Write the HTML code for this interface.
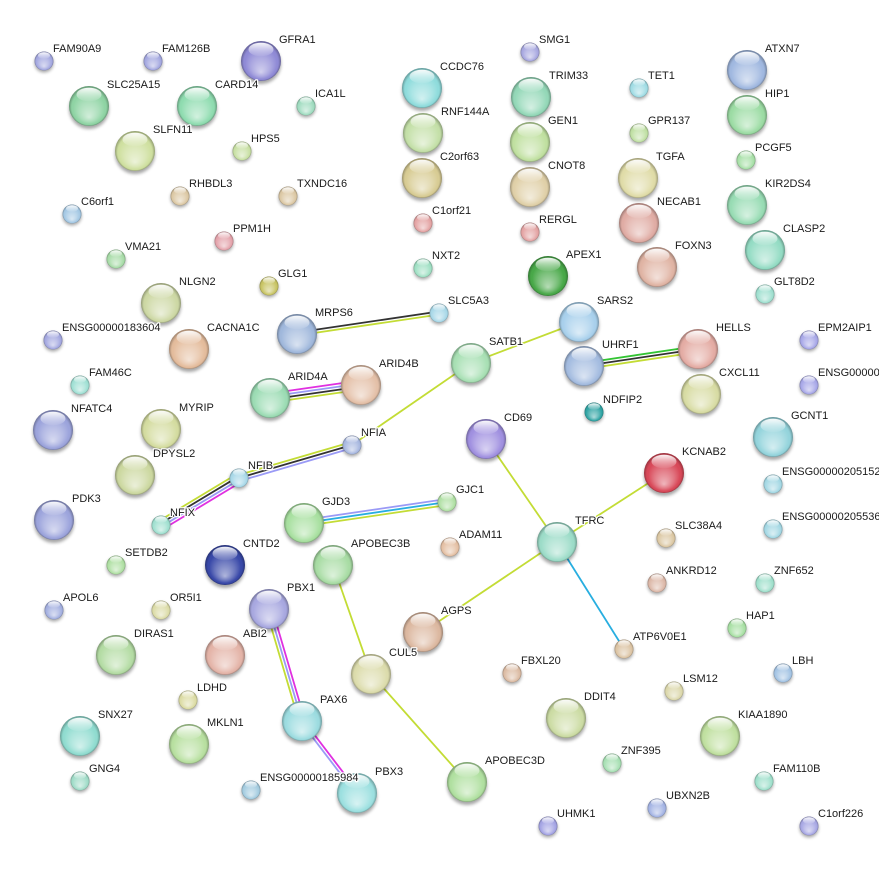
<!DOCTYPE html>
<html><head><meta charset="utf-8"><style>
html,body{margin:0;padding:0;background:#fff;}
svg{display:block;}
text{font-family:"Liberation Sans",Arial,sans-serif;font-size:11px;fill:#1a1a1a;stroke:#fff;stroke-width:2.5px;paint-order:stroke;stroke-linejoin:round;}
.e{stroke-width:1.8;fill:none;}
.y{stroke:#c3dc35;}.k{stroke:#333;}.l{stroke:#9a9af6;}.m{stroke:#e030e0;}.g{stroke:#33c433;}.c{stroke:#28aee0;}
</style></head><body>
<svg width="879" height="871" viewBox="0 0 879 871" xmlns="http://www.w3.org/2000/svg">
<defs>
<radialGradient id="sh" cx="50%" cy="50%" r="50%" fx="50%" fy="78%">
<stop offset="0" stop-color="#fff" stop-opacity="0.6"/>
<stop offset="0.5" stop-color="#fff" stop-opacity="0.25"/>
<stop offset="0.8" stop-color="#fff" stop-opacity="0"/>
<stop offset="0.88" stop-color="#000" stop-opacity="0.03"/>
<stop offset="1" stop-color="#000" stop-opacity="0.3"/>
</radialGradient>
<linearGradient id="hl" x1="0" y1="0" x2="0" y2="1">
<stop offset="0" stop-color="#fff" stop-opacity="0.95"/>
<stop offset="1" stop-color="#fff" stop-opacity="0.05"/>
</linearGradient>
<filter id="bl" x="-50%" y="-50%" width="200%" height="200%"><feGaussianBlur stdDeviation="1.6"/></filter>
<g id="S"><circle cx="0" cy="3" r="20" fill="#000" opacity="0.35" filter="url(#bl)"/></g>
<g id="G"><circle r="20" fill="url(#sh)"/><ellipse cx="0" cy="-11.5" rx="12.5" ry="6.8" fill="url(#hl)"/></g>
<g id="s"><circle cx="0" cy="2" r="9.5" fill="#000" opacity="0.35" filter="url(#bl)"/></g>
<g id="gs"><circle r="9.5" fill="url(#sh)"/><ellipse cx="0" cy="-5.5" rx="6" ry="3.3" fill="url(#hl)"/></g>
</defs>

<!-- edges -->
<line class="e k" x1="296.8" y1="332.5" x2="438.8" y2="311.5"/>
<line class="e y" x1="297.2" y1="335.5" x2="439.2" y2="314.5"/>
<line class="e y" x1="471" y1="363" x2="579" y2="322"/>
<line class="e y" x1="471" y1="363" x2="352" y2="445"/>
<line class="e g" x1="583.6" y1="363" x2="697.6" y2="346"/>
<line class="e k" x1="584" y1="366" x2="698" y2="349"/>
<line class="e y" x1="584.4" y1="369" x2="698.4" y2="352"/>
<line class="e m" x1="269.4" y1="393.5" x2="360.4" y2="380.5"/>
<line class="e l" x1="269.8" y1="396.5" x2="360.8" y2="383.5"/>
<line class="e k" x1="270.2" y1="399.5" x2="361.2" y2="386.5"/>
<line class="e y" x1="270.6" y1="402.5" x2="361.6" y2="389.5"/>
<line class="e y" x1="238.2" y1="475.1" x2="351.2" y2="442.1"/>
<line class="e k" x1="239" y1="478" x2="352" y2="445"/>
<line class="e l" x1="239.8" y1="480.9" x2="352.8" y2="447.9"/>
<line class="e y" x1="158.7" y1="521.1" x2="236.7" y2="474.1"/>
<line class="e k" x1="160.2" y1="523.7" x2="238.2" y2="476.7"/>
<line class="e l" x1="161.8" y1="526.3" x2="239.8" y2="479.3"/>
<line class="e m" x1="163.3" y1="528.9" x2="241.3" y2="481.9"/>
<line class="e l" x1="303.6" y1="520" x2="446.6" y2="499"/>
<line class="e c" x1="304" y1="523" x2="447" y2="502"/>
<line class="e y" x1="304.4" y1="526" x2="447.4" y2="505"/>
<line class="e y" x1="486" y1="439" x2="557" y2="542"/>
<line class="e y" x1="557" y1="542" x2="664" y2="473"/>
<line class="e y" x1="557" y1="542" x2="423" y2="632"/>
<line class="e c" x1="557" y1="542" x2="624" y2="649"/>
<line class="e y" x1="333" y1="565" x2="371" y2="674"/>
<line class="e y" x1="371" y1="674" x2="467" y2="782"/>
<line class="e y" x1="266.1" y1="609.8" x2="299.1" y2="721.8"/>
<line class="e l" x1="269" y1="609" x2="302" y2="721"/>
<line class="e m" x1="271.9" y1="608.2" x2="304.9" y2="720.2"/>
<line class="e m" x1="303.2" y1="720.1" x2="358.2" y2="792.1"/>
<line class="e l" x1="300.8" y1="721.9" x2="355.8" y2="793.9"/>

<!-- large nodes -->
<g transform="translate(261,61)"><use href="#S"/><circle r="20" fill="#8f8ad6"/><use href="#G"/></g>
<g transform="translate(89,106)"><use href="#S"/><circle r="20" fill="#8fd4a4"/><use href="#G"/></g>
<g transform="translate(197,106)"><use href="#S"/><circle r="20" fill="#8fdcb0"/><use href="#G"/></g>
<g transform="translate(135,151)"><use href="#S"/><circle r="20" fill="#cfe0a0"/><use href="#G"/></g>
<g transform="translate(422,88)"><use href="#S"/><circle r="20" fill="#8fdcdc"/><use href="#G"/></g>
<g transform="translate(423,133)"><use href="#S"/><circle r="20" fill="#c4e0a8"/><use href="#G"/></g>
<g transform="translate(422,178)"><use href="#S"/><circle r="20" fill="#d8cc94"/><use href="#G"/></g>
<g transform="translate(531,97)"><use href="#S"/><circle r="20" fill="#94d8b8"/><use href="#G"/></g>
<g transform="translate(530,142)"><use href="#S"/><circle r="20" fill="#c0e0a0"/><use href="#G"/></g>
<g transform="translate(530,187)"><use href="#S"/><circle r="20" fill="#e0d0a8"/><use href="#G"/></g>
<g transform="translate(638,178)"><use href="#S"/><circle r="20" fill="#e0dca8"/><use href="#G"/></g>
<g transform="translate(639,223)"><use href="#S"/><circle r="20" fill="#e0aca4"/><use href="#G"/></g>
<g transform="translate(657,267)"><use href="#S"/><circle r="20" fill="#e0b4a4"/><use href="#G"/></g>
<g transform="translate(548,276)"><use href="#S"/><circle r="20" fill="#48a848"/><use href="#G"/></g>
<g transform="translate(747,70)"><use href="#S"/><circle r="20" fill="#a0b8e0"/><use href="#G"/></g>
<g transform="translate(747,115)"><use href="#S"/><circle r="20" fill="#9cdca4"/><use href="#G"/></g>
<g transform="translate(747,205)"><use href="#S"/><circle r="20" fill="#98dcb4"/><use href="#G"/></g>
<g transform="translate(765,250)"><use href="#S"/><circle r="20" fill="#94dcc4"/><use href="#G"/></g>
<g transform="translate(161,303)"><use href="#S"/><circle r="20" fill="#cdd8a4"/><use href="#G"/></g>
<g transform="translate(189,349)"><use href="#S"/><circle r="20" fill="#e4bc9c"/><use href="#G"/></g>
<g transform="translate(297,334)"><use href="#S"/><circle r="20" fill="#a0b8dc"/><use href="#G"/></g>
<g transform="translate(579,322)"><use href="#S"/><circle r="20" fill="#a8d0ec"/><use href="#G"/></g>
<g transform="translate(471,363)"><use href="#S"/><circle r="20" fill="#a8e0b4"/><use href="#G"/></g>
<g transform="translate(584,366)"><use href="#S"/><circle r="20" fill="#a4bce0"/><use href="#G"/></g>
<g transform="translate(698,349)"><use href="#S"/><circle r="20" fill="#e4aca4"/><use href="#G"/></g>
<g transform="translate(270,398)"><use href="#S"/><circle r="20" fill="#9cdcb4"/><use href="#G"/></g>
<g transform="translate(361,385)"><use href="#S"/><circle r="20" fill="#e4c0a8"/><use href="#G"/></g>
<g transform="translate(701,394)"><use href="#S"/><circle r="20" fill="#d8dca4"/><use href="#G"/></g>
<g transform="translate(53,430)"><use href="#S"/><circle r="20" fill="#9ca4dc"/><use href="#G"/></g>
<g transform="translate(161,429)"><use href="#S"/><circle r="20" fill="#d4dca0"/><use href="#G"/></g>
<g transform="translate(486,439)"><use href="#S"/><circle r="20" fill="#a090e0"/><use href="#G"/></g>
<g transform="translate(773,437)"><use href="#S"/><circle r="20" fill="#94d4dc"/><use href="#G"/></g>
<g transform="translate(135,475)"><use href="#S"/><circle r="20" fill="#ccd8a0"/><use href="#G"/></g>
<g transform="translate(664,473)"><use href="#S"/><circle r="20" fill="#d84858"/><use href="#G"/></g>
<g transform="translate(54,520)"><use href="#S"/><circle r="20" fill="#9ca4dc"/><use href="#G"/></g>
<g transform="translate(304,523)"><use href="#S"/><circle r="20" fill="#a8e0a0"/><use href="#G"/></g>
<g transform="translate(557,542)"><use href="#S"/><circle r="20" fill="#9cdcc8"/><use href="#G"/></g>
<g transform="translate(225,565)"><use href="#S"/><circle r="20" fill="#3848a8"/><use href="#G"/></g>
<g transform="translate(333,565)"><use href="#S"/><circle r="20" fill="#a8dca4"/><use href="#G"/></g>
<g transform="translate(269,609)"><use href="#S"/><circle r="20" fill="#a8a8e0"/><use href="#G"/></g>
<g transform="translate(116,655)"><use href="#S"/><circle r="20" fill="#b4dca4"/><use href="#G"/></g>
<g transform="translate(225,655)"><use href="#S"/><circle r="20" fill="#e4b4a8"/><use href="#G"/></g>
<g transform="translate(423,632)"><use href="#S"/><circle r="20" fill="#dcb8a0"/><use href="#G"/></g>
<g transform="translate(371,674)"><use href="#S"/><circle r="20" fill="#dcdcac"/><use href="#G"/></g>
<g transform="translate(566,718)"><use href="#S"/><circle r="20" fill="#ccdca4"/><use href="#G"/></g>
<g transform="translate(302,721)"><use href="#S"/><circle r="20" fill="#9cdce0"/><use href="#G"/></g>
<g transform="translate(720,736)"><use href="#S"/><circle r="20" fill="#c0e0a0"/><use href="#G"/></g>
<g transform="translate(80,736)"><use href="#S"/><circle r="20" fill="#90dcd0"/><use href="#G"/></g>
<g transform="translate(189,744)"><use href="#S"/><circle r="20" fill="#b8e0a0"/><use href="#G"/></g>
<g transform="translate(467,782)"><use href="#S"/><circle r="20" fill="#b0e0a0"/><use href="#G"/></g>
<g transform="translate(357,793)"><use href="#S"/><circle r="20" fill="#9ce0e0"/><use href="#G"/></g>

<!-- small nodes -->
<g transform="translate(44,61)"><use href="#s"/><circle r="9.5" fill="#a4a8e0"/><use href="#gs"/></g>
<g transform="translate(153,61)"><use href="#s"/><circle r="9.5" fill="#a4a8e0"/><use href="#gs"/></g>
<g transform="translate(306,106)"><use href="#s"/><circle r="9.5" fill="#a0dcc0"/><use href="#gs"/></g>
<g transform="translate(242,151)"><use href="#s"/><circle r="9.5" fill="#c8e0a4"/><use href="#gs"/></g>
<g transform="translate(180,196)"><use href="#s"/><circle r="9.5" fill="#dcc8a4"/><use href="#gs"/></g>
<g transform="translate(288,196)"><use href="#s"/><circle r="9.5" fill="#dcc8a4"/><use href="#gs"/></g>
<g transform="translate(72,214)"><use href="#s"/><circle r="9.5" fill="#a4c8e4"/><use href="#gs"/></g>
<g transform="translate(224,241)"><use href="#s"/><circle r="9.5" fill="#e4a4ac"/><use href="#gs"/></g>
<g transform="translate(116,259)"><use href="#s"/><circle r="9.5" fill="#a8dca8"/><use href="#gs"/></g>
<g transform="translate(269,286)"><use href="#s"/><circle r="9.5" fill="#c8c464"/><use href="#gs"/></g>
<g transform="translate(530,52)"><use href="#s"/><circle r="9.5" fill="#a8a8e0"/><use href="#gs"/></g>
<g transform="translate(639,88)"><use href="#s"/><circle r="9.5" fill="#a0dce4"/><use href="#gs"/></g>
<g transform="translate(639,133)"><use href="#s"/><circle r="9.5" fill="#c0e0a4"/><use href="#gs"/></g>
<g transform="translate(746,160)"><use href="#s"/><circle r="9.5" fill="#a8e0a8"/><use href="#gs"/></g>
<g transform="translate(423,223)"><use href="#s"/><circle r="9.5" fill="#e4a4a4"/><use href="#gs"/></g>
<g transform="translate(530,232)"><use href="#s"/><circle r="9.5" fill="#e4a4a4"/><use href="#gs"/></g>
<g transform="translate(423,268)"><use href="#s"/><circle r="9.5" fill="#a0e0c4"/><use href="#gs"/></g>
<g transform="translate(765,294)"><use href="#s"/><circle r="9.5" fill="#a0e0d0"/><use href="#gs"/></g>
<g transform="translate(53,340)"><use href="#s"/><circle r="9.5" fill="#a4a8e0"/><use href="#gs"/></g>
<g transform="translate(439,313)"><use href="#s"/><circle r="9.5" fill="#a8d8e8"/><use href="#gs"/></g>
<g transform="translate(809,340)"><use href="#s"/><circle r="9.5" fill="#a8a8e8"/><use href="#gs"/></g>
<g transform="translate(80,385)"><use href="#s"/><circle r="9.5" fill="#a0e0d4"/><use href="#gs"/></g>
<g transform="translate(809,385)"><use href="#s"/><circle r="9.5" fill="#a8a8e8"/><use href="#gs"/></g>
<g transform="translate(594,412)"><use href="#s"/><circle r="9.5" fill="#30a4a4"/><use href="#gs"/></g>
<g transform="translate(352,445)"><use href="#s"/><circle r="9.5" fill="#a8b8e0"/><use href="#gs"/></g>
<g transform="translate(239,478)"><use href="#s"/><circle r="9.5" fill="#a8d8e8"/><use href="#gs"/></g>
<g transform="translate(773,484)"><use href="#s"/><circle r="9.5" fill="#a4d8e4"/><use href="#gs"/></g>
<g transform="translate(447,502)"><use href="#s"/><circle r="9.5" fill="#b0e0a4"/><use href="#gs"/></g>
<g transform="translate(161,525)"><use href="#s"/><circle r="9.5" fill="#a0e0d0"/><use href="#gs"/></g>
<g transform="translate(773,529)"><use href="#s"/><circle r="9.5" fill="#a4d8e4"/><use href="#gs"/></g>
<g transform="translate(666,538)"><use href="#s"/><circle r="9.5" fill="#dcc8a4"/><use href="#gs"/></g>
<g transform="translate(450,547)"><use href="#s"/><circle r="9.5" fill="#e4c0a4"/><use href="#gs"/></g>
<g transform="translate(116,565)"><use href="#s"/><circle r="9.5" fill="#b0e0a4"/><use href="#gs"/></g>
<g transform="translate(657,583)"><use href="#s"/><circle r="9.5" fill="#dcb8a8"/><use href="#gs"/></g>
<g transform="translate(765,583)"><use href="#s"/><circle r="9.5" fill="#a0e0cc"/><use href="#gs"/></g>
<g transform="translate(54,610)"><use href="#s"/><circle r="9.5" fill="#a4b0e0"/><use href="#gs"/></g>
<g transform="translate(161,610)"><use href="#s"/><circle r="9.5" fill="#dcdca8"/><use href="#gs"/></g>
<g transform="translate(737,628)"><use href="#s"/><circle r="9.5" fill="#a8e0a4"/><use href="#gs"/></g>
<g transform="translate(624,649)"><use href="#s"/><circle r="9.5" fill="#dcc4a4"/><use href="#gs"/></g>
<g transform="translate(512,673)"><use href="#s"/><circle r="9.5" fill="#dcbca4"/><use href="#gs"/></g>
<g transform="translate(783,673)"><use href="#s"/><circle r="9.5" fill="#a4c4e4"/><use href="#gs"/></g>
<g transform="translate(674,691)"><use href="#s"/><circle r="9.5" fill="#dcd8ac"/><use href="#gs"/></g>
<g transform="translate(188,700)"><use href="#s"/><circle r="9.5" fill="#dcdca4"/><use href="#gs"/></g>
<g transform="translate(612,763)"><use href="#s"/><circle r="9.5" fill="#a8e0b4"/><use href="#gs"/></g>
<g transform="translate(80,781)"><use href="#s"/><circle r="9.5" fill="#a0dcc8"/><use href="#gs"/></g>
<g transform="translate(764,781)"><use href="#s"/><circle r="9.5" fill="#a0e0cc"/><use href="#gs"/></g>
<g transform="translate(251,790)"><use href="#s"/><circle r="9.5" fill="#a4cce0"/><use href="#gs"/></g>
<g transform="translate(657,808)"><use href="#s"/><circle r="9.5" fill="#a4b4e4"/><use href="#gs"/></g>
<g transform="translate(548,826)"><use href="#s"/><circle r="9.5" fill="#a4a4e4"/><use href="#gs"/></g>
<g transform="translate(809,826)"><use href="#s"/><circle r="9.5" fill="#a8a8e4"/><use href="#gs"/></g>

<!-- labels: large (cx+18, cy-18) -->
<text x="279" y="43">GFRA1</text>
<text x="107" y="88">SLC25A15</text>
<text x="215" y="88">CARD14</text>
<text x="153" y="133">SLFN11</text>
<text x="440" y="70">CCDC76</text>
<text x="441" y="115">RNF144A</text>
<text x="440" y="160">C2orf63</text>
<text x="549" y="79">TRIM33</text>
<text x="548" y="124">GEN1</text>
<text x="548" y="169">CNOT8</text>
<text x="656" y="160">TGFA</text>
<text x="657" y="205">NECAB1</text>
<text x="675" y="249">FOXN3</text>
<text x="566" y="258">APEX1</text>
<text x="765" y="52">ATXN7</text>
<text x="765" y="97">HIP1</text>
<text x="765" y="187">KIR2DS4</text>
<text x="783" y="232">CLASP2</text>
<text x="179" y="285">NLGN2</text>
<text x="207" y="331">CACNA1C</text>
<text x="315" y="316">MRPS6</text>
<text x="597" y="304">SARS2</text>
<text x="489" y="345">SATB1</text>
<text x="602" y="348">UHRF1</text>
<text x="716" y="331">HELLS</text>
<text x="288" y="380">ARID4A</text>
<text x="379" y="367">ARID4B</text>
<text x="719" y="376">CXCL11</text>
<text x="71" y="412">NFATC4</text>
<text x="179" y="411">MYRIP</text>
<text x="504" y="421">CD69</text>
<text x="791" y="419">GCNT1</text>
<text x="153" y="457">DPYSL2</text>
<text x="682" y="455">KCNAB2</text>
<text x="72" y="502">PDK3</text>
<text x="322" y="505">GJD3</text>
<text x="575" y="524">TFRC</text>
<text x="243" y="547">CNTD2</text>
<text x="351" y="547">APOBEC3B</text>
<text x="287" y="591">PBX1</text>
<text x="134" y="637">DIRAS1</text>
<text x="243" y="637">ABI2</text>
<text x="441" y="614">AGPS</text>
<text x="389" y="656">CUL5</text>
<text x="584" y="700">DDIT4</text>
<text x="320" y="703">PAX6</text>
<text x="738" y="718">KIAA1890</text>
<text x="98" y="718">SNX27</text>
<text x="207" y="726">MKLN1</text>
<text x="485" y="764">APOBEC3D</text>
<text x="375" y="775">PBX3</text>

<!-- labels: small (cx+9, cy-9) -->
<text x="53" y="52">FAM90A9</text>
<text x="162" y="52">FAM126B</text>
<text x="315" y="97">ICA1L</text>
<text x="251" y="142">HPS5</text>
<text x="189" y="187">RHBDL3</text>
<text x="297" y="187">TXNDC16</text>
<text x="81" y="205">C6orf1</text>
<text x="233" y="232">PPM1H</text>
<text x="125" y="250">VMA21</text>
<text x="278" y="277">GLG1</text>
<text x="539" y="43">SMG1</text>
<text x="648" y="79">TET1</text>
<text x="648" y="124">GPR137</text>
<text x="755" y="151">PCGF5</text>
<text x="432" y="214">C1orf21</text>
<text x="539" y="223">RERGL</text>
<text x="432" y="259">NXT2</text>
<text x="774" y="285">GLT8D2</text>
<text x="62" y="331">ENSG00000183604</text>
<text x="448" y="304">SLC5A3</text>
<text x="818" y="331">EPM2AIP1</text>
<text x="89" y="376">FAM46C</text>
<text x="818" y="376">ENSG00000205464</text>
<text x="603" y="403">NDFIP2</text>
<text x="361" y="436">NFIA</text>
<text x="248" y="469">NFIB</text>
<text x="782" y="475">ENSG00000205152</text>
<text x="456" y="493">GJC1</text>
<text x="170" y="516">NFIX</text>
<text x="782" y="520">ENSG00000205536</text>
<text x="675" y="529">SLC38A4</text>
<text x="459" y="538">ADAM11</text>
<text x="125" y="556">SETDB2</text>
<text x="666" y="574">ANKRD12</text>
<text x="774" y="574">ZNF652</text>
<text x="63" y="601">APOL6</text>
<text x="170" y="601">OR5I1</text>
<text x="746" y="619">HAP1</text>
<text x="633" y="640">ATP6V0E1</text>
<text x="521" y="664">FBXL20</text>
<text x="792" y="664">LBH</text>
<text x="683" y="682">LSM12</text>
<text x="197" y="691">LDHD</text>
<text x="621" y="754">ZNF395</text>
<text x="89" y="772">GNG4</text>
<text x="773" y="772">FAM110B</text>
<text x="260" y="781">ENSG00000185984</text>
<text x="666" y="799">UBXN2B</text>
<text x="557" y="817">UHMK1</text>
<text x="818" y="817">C1orf226</text>
</svg>
</body></html>
